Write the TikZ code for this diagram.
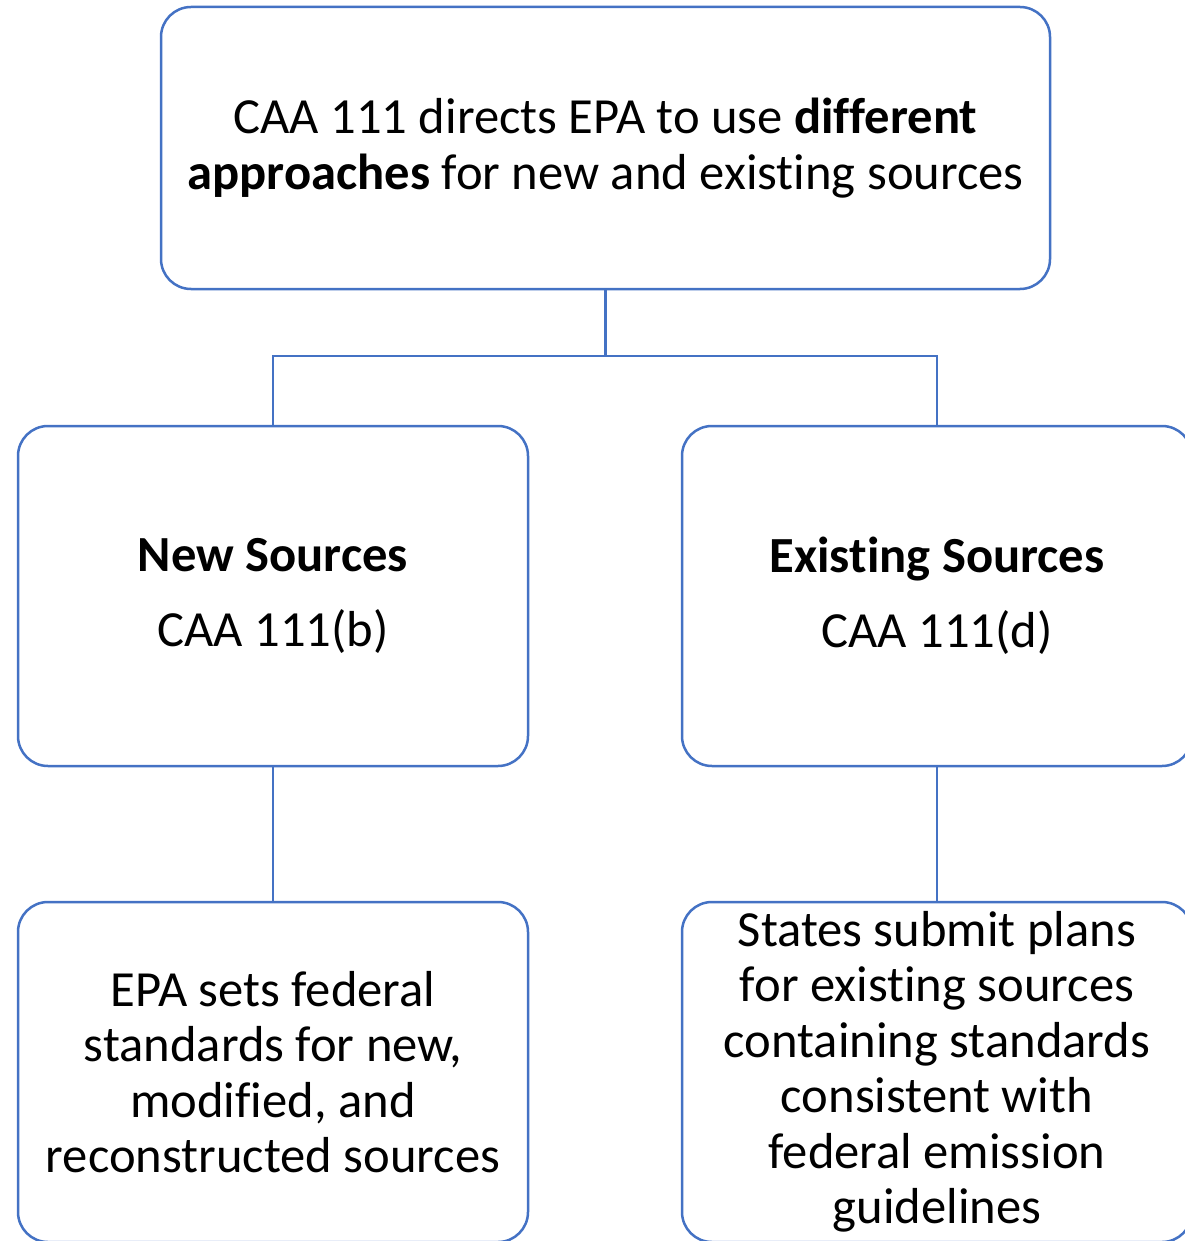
\documentclass[tikz,border=0pt]{standalone}
\usepackage{fontspec}
\setmainfont{Carlito}[Ligatures = NoCommon]
\definecolor{boxblue}{HTML}{4472C4}

\begin{document}
\begin{tikzpicture}[x = 1pt, y = -1pt,
	srcbox/.style = {draw = boxblue, line width = 2.5pt, rounded corners = 30pt, align = center, inner sep = 0pt, font = \fontsize{50.6}{55.5}\selectfont},
	link/.style = {draw = boxblue, line width = 2.5pt}]
	 \useasboundingbox (0, 0) rectangle (1184, 1241);
	 
	 \node[srcbox, minimum width = 889pt, minimum height = 282pt] (caa) at (605.5, 148) {CAA 111 directs EPA to use \textbf{different}\\\textbf{approaches} for new and existing sources};
	 
	 \node[srcbox, minimum width = 510pt, minimum height = 340pt] (newsrc) at (273, 596) {\textbf{New Sources}\\[20pt]CAA 111(b)};
	 \node[srcbox, minimum width = 510pt, minimum height = 340pt] (existsrc) at (937, 596) {\textbf{Existing Sources}\\[20pt]CAA 111(d)};
	 
	 \node[srcbox, minimum width = 510pt, minimum height = 340pt] (newrule) at (273, 1072) {EPA sets federal\\standards for new,\\modified, and\\reconstructed sources};
	 \node[srcbox, minimum width = 510pt, minimum height = 340pt] (existrule) at (937, 1072) {States submit plans\\for existing sources\\containing standards\\consistent with\\federal emission\\guidelines};
	 
	 \coordinate (bus) at (605.5, 356);
	 \draw[link] (caa.south) -- (bus);
	 \draw[link] (newsrc.north) |- (bus) -| (existsrc.north);
	 \draw[link] (newsrc.south) -- (newrule.north);
	 \draw[link] (existsrc.south) -- (existrule.north);
\end{tikzpicture}
\end{document}
